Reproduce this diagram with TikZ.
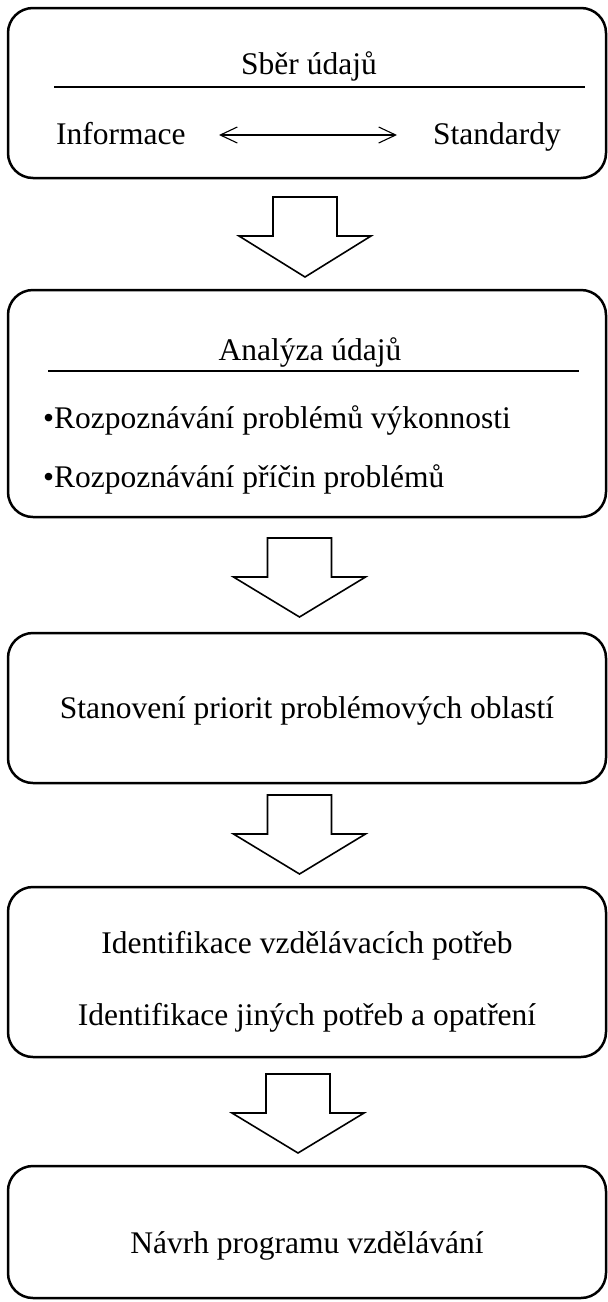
\documentclass[tikz,border=0pt]{standalone}
\usepackage{fontspec}
\setmainfont{Liberation Serif}
\usetikzlibrary{arrows.meta}
\newcommand{\blockarrow}[4]{%
  \draw[blk] (#1-32,#2) -- (#1+32,#2) -- (#1+32,#3) -- (#1+66,#3) -- (#1,#4) -- (#1-66,#3) -- (#1-32,#3) -- cycle;}
\begin{document}
\begin{tikzpicture}[x=1pt,y=-1pt,
  stage/.style={draw=black, line width=2.5pt, rounded corners=25pt, inner sep=0pt, minimum width=598pt},
  lbl/.style={inner sep=0pt, anchor=base, font=\fontsize{31.5}{36}\selectfont},
  rulethick/.style={draw=black, line width=2pt},
  rulethin/.style={draw=black, line width=1.3pt},
  blk/.style={draw=black, line width=1.6pt, fill=white, line join=miter},
  dbl/.style={draw=black, line width=1.1pt, {Straight Barb[length=17pt,width=16pt]}-{Straight Barb[length=17pt,width=16pt]}}]
\useasboundingbox (0,0) rectangle (608,1302);

% boxes
\node[stage, minimum height=170pt] (b1) at (307,93) {};
\node[stage, minimum height=227pt] (b2) at (307,403.5) {};
\node[stage, minimum height=150pt] (b3) at (307,708) {};
\node[stage, minimum height=170pt] (b4) at (307,972) {};
\node[stage, minimum height=132pt] (b5) at (307,1232) {};

% box 1
\node[lbl] (t1) at (309,74) {Sběr údajů};
\coordinate (r1a) at (54,87);
\coordinate (r1b) at (585,87);
\draw[rulethick] (r1a) -- (r1b);
\node[lbl, anchor=base west] (inf) at (56,144) {Informace};
\node[lbl, anchor=base west] (std) at (433,144) {Standardy};
\coordinate (da) at (219,135);
\coordinate (db) at (397,135);
\draw[dbl] (da) -- (db);

% box 2
\node[lbl] (t2) at (310,360) {Analýza údajů};
\coordinate (r2a) at (48,371);
\coordinate (r2b) at (579,371);
\draw[rulethin] (r2a) -- (r2b);
\node[lbl, anchor=base west] (t2a) at (43,428) {•Rozpoznávání problémů výkonnosti};
\node[lbl, anchor=base west] (t2b) at (43,487) {•Rozpoznávání příčin problémů};

% box 3
\node[lbl] (t3) at (307,718) {Stanovení priorit problémových oblastí};

% box 4
\node[lbl] (t4a) at (307,953) {Identifikace vzdělávacích potřeb};
\node[lbl] (t4b) at (307,1025) {Identifikace jiných potřeb a opatření};

% box 5
\node[lbl] (t5) at (307,1253) {Návrh programu vzdělávání};

% block arrows
\blockarrow{305}{197}{236}{277}
\blockarrow{299.5}{538}{577}{617}
\blockarrow{299.5}{795}{834}{874}
\blockarrow{298}{1074}{1113}{1153}
\end{tikzpicture}
\end{document}
